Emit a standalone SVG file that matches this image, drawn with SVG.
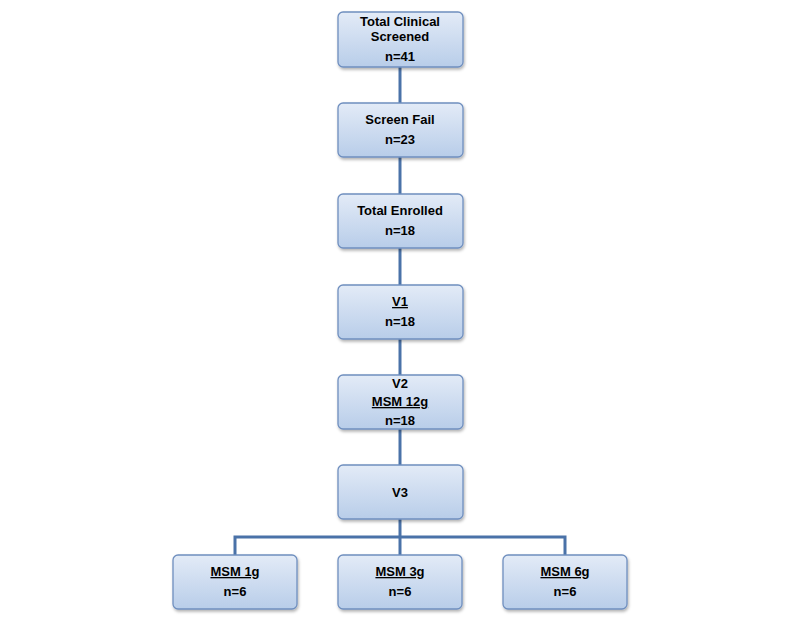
<svg xmlns="http://www.w3.org/2000/svg" width="800" height="620" viewBox="0 0 800 620">
<style>
.box{fill:url(#g);stroke:#6f8fbf;stroke-width:1.3;filter:url(#sh)}
.t{font-family:"Liberation Sans",Arial,sans-serif;font-size:13px;font-weight:bold;fill:#000;text-anchor:middle}
.u{text-decoration:underline}
.c{stroke:#4a72a8;stroke-width:3;fill:none}
</style>
<defs>
<linearGradient id="g" x1="0" y1="0" x2="0" y2="1">
<stop offset="0" stop-color="#e3ebf7"/>
<stop offset="1" stop-color="#b8cde9"/>
</linearGradient>
<filter id="sh" x="-10%" y="-10%" width="130%" height="140%">
<feDropShadow dx="1" dy="2" stdDeviation="1.5" flood-color="#000" flood-opacity="0.3"/>
</filter>
</defs>
<rect width="800" height="620" fill="#fff"/>
<g id="connectors">
<line class="c" x1="400" y1="67" x2="400" y2="103"/>
<line class="c" x1="400" y1="157" x2="400" y2="194"/>
<line class="c" x1="400" y1="248" x2="400" y2="285"/>
<line class="c" x1="400" y1="339" x2="400" y2="375"/>
<line class="c" x1="400" y1="429" x2="400" y2="465"/>
<line class="c" x1="400" y1="519" x2="400" y2="555"/>
<polyline class="c" points="235,555 235,537 565,537 565,555"/>
</g>
<g id="n1"><rect class="box" x="338" y="12" width="125" height="55" rx="5"/>
<text class="t" x="400" y="26">Total Clinical</text><text class="t" x="400" y="41">Screened</text><text class="t" x="400" y="61">n=41</text></g>
<g id="n2"><rect class="box" x="338" y="103" width="125" height="54" rx="5"/>
<text class="t" x="400" y="124">Screen Fail</text><text class="t" x="400" y="144">n=23</text></g>
<g id="n3"><rect class="box" x="338" y="194" width="125" height="54" rx="5"/>
<text class="t" x="400" y="215">Total Enrolled</text><text class="t" x="400" y="235">n=18</text></g>
<g id="n4"><rect class="box" x="338" y="285" width="125" height="54" rx="5"/>
<text class="t u" x="400" y="306">V1</text><text class="t" x="400" y="326">n=18</text></g>
<g id="n5"><rect class="box" x="338" y="375" width="125" height="54" rx="5"/>
<text class="t" x="400" y="388">V2</text><text class="t u" x="400" y="406">MSM 12g</text><text class="t" x="400" y="425">n=18</text></g>
<g id="n6"><rect class="box" x="338" y="465" width="125" height="54" rx="5"/>
<text class="t" x="400" y="497">V3</text></g>
<g id="n7"><rect class="box" x="173" y="555" width="124" height="54" rx="5"/>
<text class="t u" x="235" y="576">MSM 1g</text><text class="t" x="235" y="596">n=6</text></g>
<g id="n8"><rect class="box" x="338" y="555" width="124" height="54" rx="5"/>
<text class="t u" x="400" y="576">MSM 3g</text><text class="t" x="400" y="596">n=6</text></g>
<g id="n9"><rect class="box" x="503" y="555" width="124" height="54" rx="5"/>
<text class="t u" x="565" y="576">MSM 6g</text><text class="t" x="565" y="596">n=6</text></g>
</svg>
